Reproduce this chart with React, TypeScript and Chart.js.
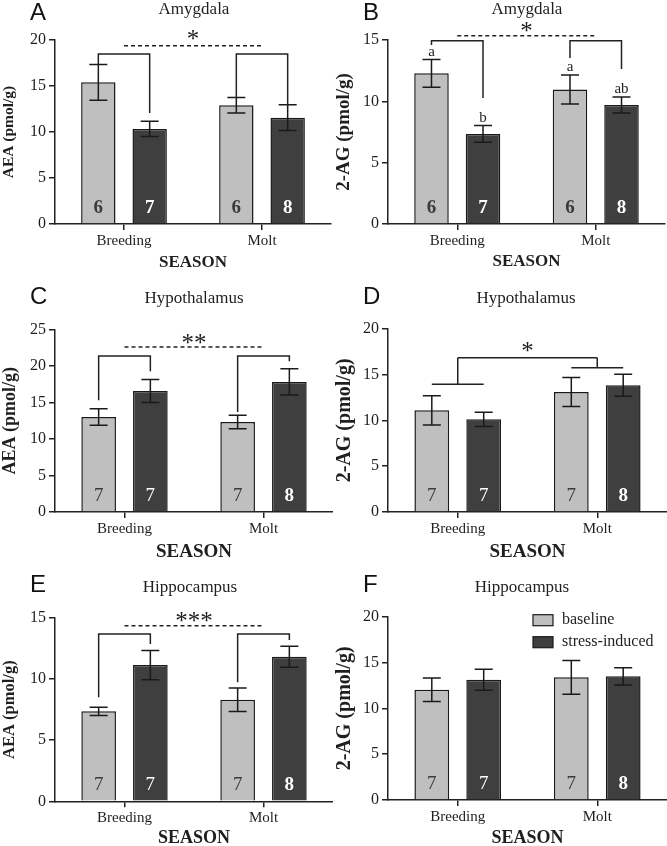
import React, { useEffect, useRef } from 'react';
import { Chart, registerables } from 'chart.js';

Chart.register(...registerables);

// ---------- shared categories / series ----------
const SEASONS = ['Breeding', 'Molt'];
const SERIES = ['baseline', 'stress-induced'];

// ---------- Panel A : Amygdala AEA ----------
const A_BASELINE = [15.4, 12.9];
const A_BASELINE_SEM = [1.95, 0.84];
const A_STRESS = [10.33, 11.56];
const A_STRESS_SEM = [0.83, 1.4];
const A_N_BASELINE = [6, 6];
const A_N_STRESS = [7, 8];

// ---------- Panel B : Amygdala 2-AG ----------
const B_BASELINE = [12.28, 10.97];
const B_BASELINE_SEM = [1.13, 1.18];
const B_STRESS = [7.34, 9.7];
const B_STRESS_SEM = [0.68, 0.66];
const B_N_BASELINE = [6, 6];
const B_N_STRESS = [7, 8];
const B_LETTERS_BASELINE = ['a', 'a'];
const B_LETTERS_STRESS = ['b', 'ab'];

// ---------- Panel C : Hypothalamus AEA ----------
const C_BASELINE = [13.03, 12.35];
const C_BASELINE_SEM = [1.14, 0.92];
const C_STRESS = [16.6, 17.83];
const C_STRESS_SEM = [1.58, 1.8];
const C_N_BASELINE = [7, 7];
const C_N_STRESS = [7, 8];

// ---------- Panel D : Hypothalamus 2-AG ----------
const D_BASELINE = [11.09, 13.09];
const D_BASELINE_SEM = [1.6, 1.58];
const D_STRESS = [10.11, 13.82];
const D_STRESS_SEM = [0.77, 1.2];
const D_N_BASELINE = [7, 7];
const D_N_STRESS = [7, 8];

// ---------- Panel E : Hippocampus AEA ----------
const E_BASELINE = [7.36, 8.31];
const E_BASELINE_SEM = [0.34, 0.96];
const E_STRESS = [11.15, 11.83];
const E_STRESS_SEM = [1.2, 0.86];
const E_N_BASELINE = [7, 7];
const E_N_STRESS = [7, 8];

// ---------- Panel F : Hippocampus 2-AG ----------
const F_BASELINE = [12.03, 13.38];
const F_BASELINE_SEM = [1.27, 1.83];
const F_STRESS = [13.12, 13.49];
const F_STRESS_SEM = [1.15, 0.93];
const F_N_BASELINE = [7, 7];
const F_N_STRESS = [7, 8];

// ---------- styles ----------
const SERIF = '"Liberation Serif", "Times New Roman", serif';
const SANS = '"Liberation Sans", Arial, sans-serif';
const TEXT = '#1f1f1f';
const AXIS = '#222222';
const LIGHT = '#bfbfbf';
const DARK = '#3f3f3f';
const EDGE = '#1a1a1a';
const STAR_SIZE = 25;

type Pairs = { kind: 'pairs'; top: number; legs: number[][]; dashY: number; starY: number; stars: string };
type Group = { kind: 'group'; top: number; low: number[]; starY: number; stars: string };

interface PanelSpec {
  letter: string;
  title: string;
  yTitle: string;
  yMax: number;
  baseline: number[];
  baselineSem: number[];
  stress: number[];
  stressSem: number[];
  nBaseline: number[];
  nStress: number[];
  boldBaseline: boolean[];
  boldStress: boolean[];
  lettersBaseline?: string[];
  lettersStress?: string[];
  brackets?: Pairs | Group;
  legend?: boolean;
  // layout (canvas-relative pixels)
  px: number;
  py: number;
  w: number;
  h: number;
  top: number;
  bottom: number;
  left: number;
  right: number;
  yTitleSize: number;
  seasonSize: number;
  seasonY: number;
  titleX: number;
  titleY: number;
  letterBase: number;
}

const PANELS: PanelSpec[] = [
  {
    letter: 'A', title: 'Amygdala', yTitle: 'AEA (pmol/g)', yMax: 20,
    baseline: A_BASELINE, baselineSem: A_BASELINE_SEM, stress: A_STRESS, stressSem: A_STRESS_SEM,
    nBaseline: A_N_BASELINE, nStress: A_N_STRESS,
    boldBaseline: [true, true], boldStress: [true, true],
    brackets: { kind: 'pairs', top: 18.48, legs: [[17.3, 12.07], [13.8, 12.93]], dashY: 19.38, starY: 20.5, stars: '*' },
    px: 0, py: 0, w: 333, h: 282, top: 40, bottom: 224, left: 55, right: 331,
    yTitleSize: 15.5, seasonSize: 17, seasonY: 263, titleX: 194, titleY: 10, letterBase: 20,
  },
  {
    letter: 'B', title: 'Amygdala', yTitle: '2-AG (pmol/g)', yMax: 15,
    baseline: B_BASELINE, baselineSem: B_BASELINE_SEM, stress: B_STRESS, stressSem: B_STRESS_SEM,
    nBaseline: B_N_BASELINE, nStress: B_N_STRESS,
    boldBaseline: [true, true], boldStress: [true, true],
    lettersBaseline: B_LETTERS_BASELINE, lettersStress: B_LETTERS_STRESS,
    brackets: { kind: 'pairs', top: 14.94, legs: [[14.59, 10.27], [13.53, 12.63]], dashY: 15.35, starY: 16.05, stars: '*' },
    px: 333, py: 0, w: 334, h: 282, top: 40, bottom: 224, left: 55, right: 332,
    yTitleSize: 19, seasonSize: 17, seasonY: 262, titleX: 194, titleY: 10, letterBase: 20,
  },
  {
    letter: 'C', title: 'Hypothalamus', yTitle: 'AEA (pmol/g)', yMax: 25,
    baseline: C_BASELINE, baselineSem: C_BASELINE_SEM, stress: C_STRESS, stressSem: C_STRESS_SEM,
    nBaseline: C_N_BASELINE, nStress: C_N_STRESS,
    boldBaseline: [false, false], boldStress: [false, true],
    brackets: { kind: 'pairs', top: 21.4, legs: [[15.32, 19.3], [13.72, 20.67]], dashY: 22.63, starY: 23.73, stars: '**' },
    px: 0, py: 282, w: 333, h: 282, top: 47.7, bottom: 230, left: 55, right: 333,
    yTitleSize: 18, seasonSize: 19, seasonY: 270, titleX: 194, titleY: 16.7, letterBase: 22,
  },
  {
    letter: 'D', title: 'Hypothalamus', yTitle: '2-AG (pmol/g)', yMax: 20,
    baseline: D_BASELINE, baselineSem: D_BASELINE_SEM, stress: D_STRESS, stressSem: D_STRESS_SEM,
    nBaseline: D_N_BASELINE, nStress: D_N_STRESS,
    boldBaseline: [false, false], boldStress: [false, true],
    brackets: { kind: 'group', top: 16.83, low: [13.93, 15.74], starY: 18.0, stars: '*' },
    px: 333, py: 282, w: 334, h: 282, top: 46.7, bottom: 230, left: 55, right: 334,
    yTitleSize: 20, seasonSize: 19, seasonY: 270, titleX: 193, titleY: 16.7, letterBase: 22,
  },
  {
    letter: 'E', title: 'Hippocampus', yTitle: 'AEA (pmol/g)', yMax: 15,
    baseline: E_BASELINE, baselineSem: E_BASELINE_SEM, stress: E_STRESS, stressSem: E_STRESS_SEM,
    nBaseline: E_N_BASELINE, nStress: E_N_STRESS,
    boldBaseline: [false, false], boldStress: [false, true],
    brackets: { kind: 'pairs', top: 13.69, legs: [[8.51, 12.87], [9.74, 13.2]], dashY: 14.37, starY: 15.1, stars: '***' },
    px: 0, py: 564, w: 333, h: 282, top: 54, bottom: 237.3, left: 55, right: 333,
    yTitleSize: 16.5, seasonSize: 18, seasonY: 274, titleX: 190, titleY: 24, letterBase: 28,
  },
  {
    letter: 'F', title: 'Hippocampus', yTitle: '2-AG (pmol/g)', yMax: 20,
    baseline: F_BASELINE, baselineSem: F_BASELINE_SEM, stress: F_STRESS, stressSem: F_STRESS_SEM,
    nBaseline: F_N_BASELINE, nStress: F_N_STRESS,
    boldBaseline: [false, false], boldStress: [false, true],
    legend: true,
    px: 333, py: 564, w: 334, h: 282, top: 52.7, bottom: 236, left: 55, right: 334,
    yTitleSize: 20, seasonSize: 18, seasonY: 274, titleX: 189, titleY: 24, letterBase: 28,
  },
];

function makePlugin(p: PanelSpec) {
  return {
    id: 'annot' + p.letter,
    afterDatasetsDraw(chart: any) {
      const ctx: CanvasRenderingContext2D = chart.ctx;
      const y = chart.scales.y;
      const x = chart.scales.x;
      const metas = [chart.getDatasetMeta(0), chart.getDatasetMeta(1)];
      const vals = [p.baseline, p.stress];
      const sems = [p.baselineSem, p.stressSem];
      const ns = [p.nBaseline, p.nStress];
      const bolds = [p.boldBaseline, p.boldStress];
      const lets = [p.lettersBaseline, p.lettersStress];
      const py = (v: number) => y.getPixelForValue(v);
      ctx.save();
      // sample sizes inside bars
      metas.forEach((meta, di) => {
        meta.data.forEach((bar: any, i: number) => {
          ctx.font = `${bolds[di][i] ? 'bold ' : ''}19px ${SERIF}`;
          ctx.fillStyle = di === 0 ? '#3a3a3a' : '#ffffff';
          ctx.textAlign = 'center';
          ctx.textBaseline = 'middle';
          ctx.fillText(String(ns[di][i]), bar.x, py(0) - 16);
        });
      });
      // error bars
      ctx.strokeStyle = EDGE;
      ctx.lineWidth = 1.5;
      metas.forEach((meta, di) => {
        meta.data.forEach((bar: any, i: number) => {
          const v = vals[di][i];
          const e = sems[di][i];
          const yt = py(v + e);
          const yb = py(v - e);
          ctx.beginPath();
          ctx.moveTo(bar.x, yt);
          ctx.lineTo(bar.x, yb);
          ctx.moveTo(bar.x - 9, yt);
          ctx.lineTo(bar.x + 9, yt);
          ctx.moveTo(bar.x - 9, yb);
          ctx.lineTo(bar.x + 9, yb);
          ctx.stroke();
          const l = lets[di];
          if (l) {
            ctx.font = `15px ${SERIF}`;
            ctx.fillStyle = TEXT;
            ctx.textAlign = 'center';
            ctx.textBaseline = 'alphabetic';
            ctx.fillText(l[i], bar.x, yt - 4);
          }
        });
      });
      // significance brackets
      const b = p.brackets;
      if (b) {
        ctx.strokeStyle = AXIS;
        ctx.lineWidth = 1.5;
        const c0 = x.getPixelForValue(0);
        const c1 = x.getPixelForValue(1);
        const yTop = py(b.top);
        if (b.kind === 'pairs') {
          for (let i = 0; i < 2; i++) {
            const xl = metas[0].data[i].x;
            const xr = metas[1].data[i].x;
            ctx.beginPath();
            ctx.moveTo(xl, py(b.legs[i][0]));
            ctx.lineTo(xl, yTop);
            ctx.lineTo(xr, yTop);
            ctx.lineTo(xr, py(b.legs[i][1]));
            ctx.stroke();
          }
          ctx.setLineDash([4, 3]);
          ctx.beginPath();
          ctx.moveTo(c0, py(b.dashY));
          ctx.lineTo(c1, py(b.dashY));
          ctx.stroke();
          ctx.setLineDash([]);
        } else {
          for (let i = 0; i < 2; i++) {
            const xl = metas[0].data[i].x;
            const xr = metas[1].data[i].x;
            const yl = py(b.low[i]);
            const xc = x.getPixelForValue(i);
            ctx.beginPath();
            ctx.moveTo(xl, yl);
            ctx.lineTo(xr, yl);
            ctx.moveTo(xc, yl);
            ctx.lineTo(xc, yTop);
            ctx.stroke();
          }
          ctx.beginPath();
          ctx.moveTo(c0, yTop);
          ctx.lineTo(c1, yTop);
          ctx.stroke();
        }
        ctx.font = `${STAR_SIZE}px ${SERIF}`;
        ctx.fillStyle = TEXT;
        ctx.textAlign = 'center';
        ctx.textBaseline = 'alphabetic';
        ctx.fillText(b.stars, (c0 + c1) / 2, py(b.starY) + 0.47 * STAR_SIZE);
      }
      ctx.restore();
    },
    afterDraw(chart: any) {
      const ctx: CanvasRenderingContext2D = chart.ctx;
      const area = chart.chartArea;
      ctx.save();
      // panel letter
      ctx.font = `24px ${SANS}`;
      ctx.fillStyle = '#111';
      ctx.textAlign = 'left';
      ctx.textBaseline = 'alphabetic';
      ctx.fillText(p.letter, 30, p.letterBase);
      // title
      ctx.font = `17px ${SERIF}`;
      ctx.fillStyle = TEXT;
      ctx.textAlign = 'center';
      ctx.textBaseline = 'middle';
      ctx.fillText(p.title, p.titleX, p.titleY);
      // x-axis title
      ctx.font = `bold ${p.seasonSize}px ${SERIF}`;
      ctx.fillText('SEASON', (area.left + area.right) / 2, p.seasonY);
      // legend
      if (p.legend) {
        chart.data.datasets.forEach((ds: any, i: number) => {
          const top = 50.7 + i * 22;
          ctx.fillStyle = ds.backgroundColor;
          ctx.fillRect(200, top, 20, 11);
          ctx.strokeStyle = ds.borderColor;
          ctx.lineWidth = 1.2;
          ctx.strokeRect(200, top, 20, 11);
          ctx.font = `16px ${SERIF}`;
          ctx.fillStyle = TEXT;
          ctx.textAlign = 'left';
          ctx.textBaseline = 'middle';
          ctx.fillText(ds.label, 229, top + 5.5);
        });
      }
      ctx.restore();
    },
  };
}

function Panel({ p }: { p: PanelSpec }) {
  const ref = useRef<HTMLCanvasElement | null>(null);
  useEffect(() => {
    if (!ref.current) return;
    const xTickFont = { family: SERIF, size: 15 };
    const yTickFont = { family: SERIF, size: 16 };
    const chart = new Chart(ref.current, {
      type: 'bar',
      data: {
        labels: SEASONS,
        datasets: [
          {
            label: SERIES[0], data: p.baseline, backgroundColor: LIGHT, borderColor: EDGE, borderWidth: 1.5,
            categoryPercentage: 0.744, barPercentage: 0.67,
          },
          {
            label: SERIES[1], data: p.stress, backgroundColor: DARK, borderColor: EDGE, borderWidth: 1.5,
            categoryPercentage: 0.744, barPercentage: 0.67,
          },
        ],
      },
      options: {
        animation: false,
        responsive: false,
        maintainAspectRatio: false,
        events: [],
        layout: { padding: { top: p.top, right: p.w - p.right, bottom: 0, left: 0 } },
        plugins: { legend: { display: false }, tooltip: { enabled: false }, title: { display: false } },
        scales: {
          x: {
            type: 'category',
            offset: true,
            grid: { display: true, offset: false, drawOnChartArea: false, drawTicks: true, tickLength: 6, color: AXIS, lineWidth: 1.5 },
            border: { display: true, color: AXIS, width: 1.5 },
            ticks: { font: xTickFont, color: TEXT, padding: 2, maxRotation: 0, autoSkip: false },
            afterFit: (s: any) => { s.height = p.h - p.bottom; },
          },
          y: {
            min: 0,
            max: p.yMax,
            ticks: { stepSize: 5, font: yTickFont, color: TEXT, padding: 3 },
            grid: { display: true, drawOnChartArea: false, drawTicks: true, tickLength: 6, color: AXIS, lineWidth: 1.5 },
            border: { display: true, color: AXIS, width: 1.5 },
            title: {
              display: true, text: p.yTitle, color: TEXT,
              font: { family: SERIF, size: p.yTitleSize, weight: 'bold' },
              padding: { top: 0, bottom: 0 },
            },
            afterFit: (s: any) => { s.width = p.left; },
          },
        },
      } as any,
      plugins: [makePlugin(p)],
    });
    return () => chart.destroy();
  }, [p]);
  return (
    <canvas
      ref={ref}
      width={p.w}
      height={p.h}
      style={{ position: 'absolute', left: p.px, top: p.py, width: p.w, height: p.h }}
    />
  );
}

export default function App() {
  return (
    <div style={{ position: 'fixed', left: 0, top: 0, width: 667, height: 846, background: '#fff', overflow: 'hidden' }}>
      {PANELS.map((p) => (
        <Panel key={p.letter} p={p} />
      ))}
    </div>
  );
}
